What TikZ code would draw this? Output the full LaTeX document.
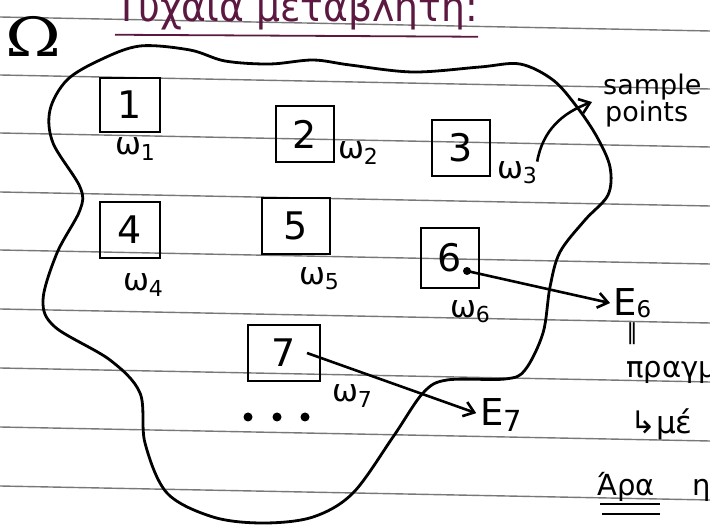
\documentclass[tikz,border=0pt]{standalone}
\usepackage{fontspec}
\setmainfont{DejaVu Sans}
\newfontfamily\omfont{DejaVu Serif}
\usetikzlibrary{positioning,arrows.meta}
\definecolor{inkpurple}{RGB}{92,24,64}
\definecolor{ruling}{RGB}{120,120,120}
\newcommand{\om}[1]{ω\raisebox{-0.3ex}{\fontsize{22}{22}\selectfont #1}}
\begin{document}
\begin{tikzpicture}[x=1pt,y=-1pt,
  numbox/.style={draw,line width=2.8pt,minimum width=58pt,minimum height=56pt,inner sep=0pt,font=\fontsize{38}{38}\selectfont},
  wlabel/.style={inner sep=0pt,font=\fontsize{31}{31}\selectfont},
  note/.style={inner sep=0pt,anchor=base west,font=\fontsize{27}{27}\selectfont},
  barb/.style={line width=2.6pt,-{Straight Barb[length=10pt,width=15pt,line width=2.6pt]}}]
\useasboundingbox (0,0) rectangle (710,529);
\clip (0,0) rectangle (710,529);
\fill[white] (0,0) rectangle (710,529);
\foreach \y in {17,75,133,192,250,309,368,427,486}
  \draw[ruling,line width=1.4pt] (0,\y) -- (710,\y+14);
\node[anchor=base west,inner sep=0pt,text=inkpurple,font=\fontsize{41}{41}\selectfont] (title) at (115,22) {\scalebox{0.92}[1]{Τυχαία μεταβλητή:}};
\draw[inkpurple,line width=1.8pt] ([yshift=-4pt]title.south west) -- ([yshift=-6pt]title.south east);
\node[inner sep=0pt,xscale=1.25,font=\omfont\fontsize{54}{54}\selectfont] (omega) at (33,36) {Ω};
\draw[line width=2.8pt] plot[smooth cycle,tension=0.55] coordinates {(67,80) (100,60) (140,46) (190,50) (225,61) (270,64) (313,60) (350,65) (413,72) (480,67) (520,64) (553,80) (577,107) (597,137) (610,167) (608,195) (585,220) (560,252) (550,287) (543,333) (525,370) (505,379) (447,380) (423,393) (393,437) (353,493) (313,517) (263,523) (213,517) (167,493) (145,443) (140,393) (110,360) (55,327) (43,300) (57,253) (80,210) (80,187) (53,143) (50,110)};
\node[numbox,minimum width=60pt,minimum height=54pt] (b1) at (130,105) {1};
\node[numbox] (b2) at (305,134) {2};
\node[numbox] (b3) at (461,148) {3};
\node[numbox,minimum width=60pt] (b4) at (130,230) {4};
\node[numbox,minimum width=68pt] (b5) at (296,226) {5};
\node[numbox,minimum height=60pt] (b6) at (450,258) {6\hspace{8pt}};
\node[numbox,minimum width=72pt] (b7) at (284,353) {7};
\node[wlabel] (w1) at (135,149) {\om{1}};
\node[wlabel] (w2) at (358,153) {\om{2}};
\node[wlabel] (w3) at (517,173) {\om{3}};
\node[wlabel] (w4) at (143,285) {\om{4}};
\node[wlabel] (w5) at (319,279) {\om{5}};
\node[wlabel] (w6) at (470,312) {\om{6}};
\node[wlabel] (w7) at (352,396) {\om{7}};
\foreach \x in {248,277,305} \fill (\x,417) circle (4.5pt);
\coordinate (d6) at (467,271);
\fill (d6) circle (4pt);
\coordinate (s7) at (307,353);
\node[inner sep=0pt,anchor=base west,font=\fontsize{37}{37}\selectfont] (e6) at (613,316) {E\raisebox{-2pt}{\fontsize{23}{23}\selectfont 6}};
\node[inner sep=0pt,anchor=base west,font=\fontsize{37}{37}\selectfont] (e7) at (480,425) {E\raisebox{-6pt}{\fontsize{29}{29}\selectfont 7}};
\draw[barb,shorten >=3pt] (d6) -- (e6.west);
\draw[barb,shorten >=4pt] (s7) -- (e7.west);
\node[note,align=left] (sp) at (603,122) {sample\\\hspace{2pt}points};
\coordinate (sptip) at (592,102);
\draw[barb] (w3.north east) to[out=80,in=200] (sptip);
\node[inner sep=0pt,font=\fontsize{22}{22}\selectfont] (eq) at (632,334) {‖};
\node[note,font=\fontsize{29}{29}\selectfont] (pr) at (626,378) {πραγμα};
\node[note,font=\fontsize{31}{31}\selectfont] (arr) at (630,434) {↳μέ};
\node[note,font=\fontsize{29}{29}\selectfont] (ara) at (597,495) {Άρα\hspace{38pt}η};
\draw[line width=2pt] (600,504) -- (660,504) (602,514) -- (660,514);
\end{tikzpicture}
\end{document}
